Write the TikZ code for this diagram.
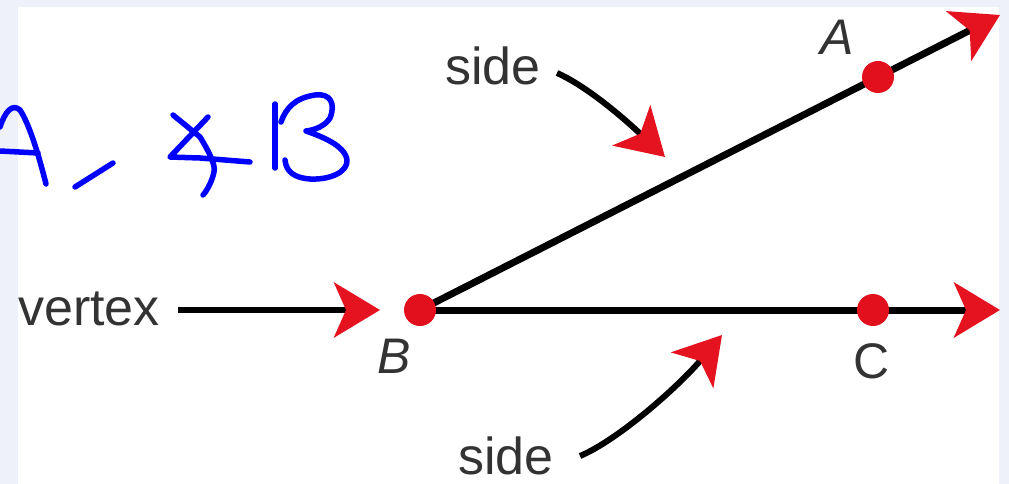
\documentclass[tikz,border=0pt]{standalone}
\usepackage{fontspec}
\setmainfont{Liberation Sans}
\usetikzlibrary{arrows.meta}
\definecolor{bgblue}{HTML}{EEF1FA}
\definecolor{dotred}{HTML}{E2101C}
\definecolor{tipred}{HTML}{E5131F}
\definecolor{ink}{HTML}{0000FF}
\definecolor{txt}{HTML}{333333}
\pgfdeclarelayer{back}
\pgfdeclarelayer{lines}
\pgfsetlayers{back,lines,main}
\begin{document}
\begin{tikzpicture}[x=1pt,y=-1pt,
  redtip/.style={-{Stealth[length=46pt,width=55pt,inset=12pt,tipred]}},
  ray/.style={line width=7pt,black,redtip},
  pointer/.style={line width=6pt,black,redtip},
  dot/.style={circle,fill=dotred,inner sep=0pt,minimum size=32pt},
  lbl/.style={text=txt,font=\fontsize{52}{60}\selectfont,inner sep=0pt},
  ptlabel/.style={text=txt,font=\fontsize{50}{60}\selectfont,inner sep=0pt},
  handwriting/.style={ink,line width=5.5pt,line cap=round,line join=round}]
\useasboundingbox (0,0) rectangle (1009,484);
\begin{pgfonlayer}{back}
  \fill[bgblue] (0,0) rectangle (1009,484);
  \fill[white] (18,7) rectangle (999,484);
\end{pgfonlayer}

% points
\node[dot] (B) at (420,310) {};
\node[dot] (A) at (878,77) {};
\node[dot] (C) at (873,310) {};
\coordinate (tipA) at (1000,15);
\coordinate (tipC) at (1000,310);

% labels
\node[ptlabel,anchor=base west] (labA) at (820,55) {\itshape A};
\node[ptlabel,anchor=base west] (labB) at (377,373) {\itshape B};
\node[ptlabel,anchor=base west] (labC) at (853,378) {C};
\node[lbl,anchor=base west] (vertex) at (18,325) {vertex};
\node[lbl,anchor=base west] (sideT) at (445,85) {side};
\node[lbl,anchor=base west] (sideB) at (458,474) {side};

% pointer coordinates
\coordinate (vs) at (178,310);
\coordinate (vtip) at (380,310);
\coordinate (ts) at (557,73);
\coordinate (ttip) at (665,157);
\coordinate (bs) at (580,456);
\coordinate (btip) at (722,335);

\begin{pgfonlayer}{lines}
  \draw[ray] (B.center) -- (tipA);
  \draw[ray] (B.center) -- (tipC);
\end{pgfonlayer}
\draw[pointer] (vs) -- (vtip);
\draw[pointer] (ts) .. controls (582,84) and (615,110) .. (ttip);
\draw[pointer] (bs) .. controls (618,440) and (678,387) .. (btip);

% handwritten annotation
\draw[handwriting] (0,127) .. controls (5,112) and (12,103) .. (20,110) .. controls (30,125) and (40,160) .. (46,184);
\draw[handwriting] (0,151) -- (38,153);
\draw[handwriting] (75,187) -- (113,163);
\draw[handwriting] (173,115) -- (200,137) .. controls (208,150) and (216,165) .. (214,172) .. controls (212,182) and (206,192) .. (203,195);
\draw[handwriting] (208,117) -- (170,157) -- (200,158) -- (250,162);
\draw[handwriting] (275,104) -- (275,168);
\draw[handwriting] (281,122) .. controls (286,108) and (295,98) .. (315,95) .. controls (330,93) and (336,103) .. (330,118) .. controls (325,126) and (315,130) .. (306,131) .. controls (320,136) and (345,145) .. (347,160) .. controls (348,172) and (330,180) .. (310,179) .. controls (295,178) and (286,172) .. (285,160);
\end{tikzpicture}
\end{document}
